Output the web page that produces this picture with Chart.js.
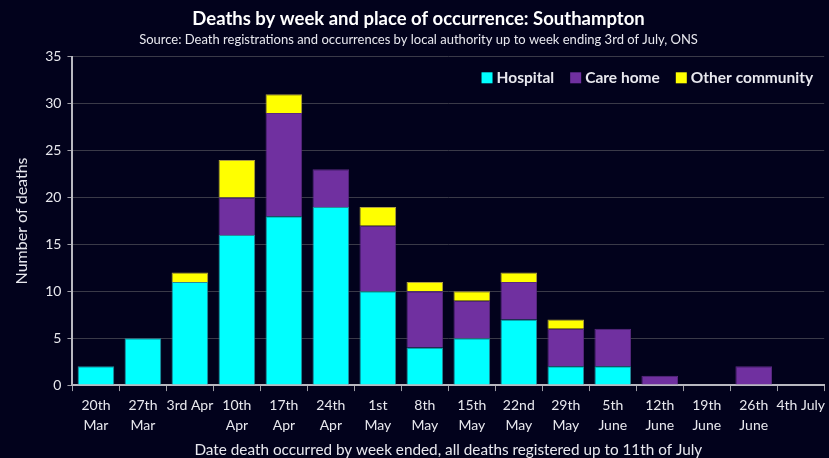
<!DOCTYPE html>
<html>
<head>
<meta charset="utf-8">
<script src="https://cdn.jsdelivr.net/npm/chart.js@4/dist/chart.umd.min.js"></script>
<style>
html,body{margin:0;padding:0;background:#02021c;}
#wrap{width:829px;height:458px;position:relative;}
</style>
</head>
<body>
<div id="wrap"><canvas id="c" width="829" height="458"></canvas></div>
<script>
const categories = [["20th","Mar"],["27th","Mar"],"3rd Apr",["10th","Apr"],["17th","Apr"],["24th","Apr"],["1st","May"],["8th","May"],["15th","May"],["22nd","May"],["29th","May"],["5th","June"],["12th","June"],["19th","June"],["26th","June"],"4th July"];
const hospital = [2,5,11,16,18,19,10,4,5,7,2,2,0,0,0,0];
const careHome = [0,0,0,4,11,4,7,6,4,4,4,4,1,0,2,0];
const otherCommunity = [0,0,1,4,2,0,2,1,1,1,1,0,0,0,0,0];

const FONT = "Lato, 'Open Sans', sans-serif";
const TXT = '#e8e8ee';

const insideLegend = {
  id:'insideLegend',
  afterDraw(chart){
    const ctx = chart.ctx;
    const area = chart.chartArea;
    ctx.save();
    ctx.font = 'bold 15.5px ' + FONT;
    ctx.textBaseline = 'middle';
    const items = chart.data.datasets.map(d => ({label:d.label, color:d.backgroundColor}));
    const box = 11, gap = 4, spacing = 16;
    let total = 0;
    items.forEach((it,i) => { total += box + gap + ctx.measureText(it.label).width + (i < items.length-1 ? spacing : 0); });
    let x = area.right - 11 - total;
    const y = area.top + 21;
    items.forEach(it => {
      ctx.fillStyle = it.color;
      ctx.fillRect(x, y - box/2, box, box);
      x += box + gap;
      ctx.fillStyle = TXT;
      ctx.fillText(it.label, x, y);
      x += ctx.measureText(it.label).width + spacing;
    });
    ctx.restore();
  }
};

new Chart(document.getElementById('c'), {
  type: 'bar',
  data: {
    labels: categories,
    datasets: [
      {label:'Hospital', data:hospital, backgroundColor:'#00ffff', borderColor:'#2a8a9a', borderWidth:1},
      {label:'Care home', data:careHome, backgroundColor:'#7030a0', borderColor:'#5a2a80', borderWidth:1},
      {label:'Other community', data:otherCommunity, backgroundColor:'#ffff00', borderColor:'#b0a040', borderWidth:1}
    ]
  },
  plugins:[insideLegend],
  options: {
    responsive:false,
    animation:false,
    layout:{padding:{left:8,right:0,top:0,bottom:0}},
    datasets:{bar:{barPercentage:0.78,categoryPercentage:1}},
    plugins:{
      title:{display:true,text:'Deaths by week and place of occurrence: Southampton',color:'#ffffff',font:{family:FONT,size:18.5,weight:'bold'},padding:{top:8,bottom:2}},
      subtitle:{display:true,text:'Source: Death registrations and occurrences by local authority up to week ending 3rd of July, ONS',color:TXT,font:{family:FONT,size:13},padding:{bottom:9}},
      legend:{display:false},
      tooltip:{enabled:false}
    },
    scales:{
      x:{stacked:true,
        grid:{display:true,drawOnChartArea:false,drawTicks:true,tickLength:6,color:'#a0a0a8',offset:true},
        border:{color:'#b8b8c0',width:2},
        ticks:{color:TXT,font:{family:FONT,size:14,lineHeight:1.45},maxRotation:0,autoSkip:false,padding:4},
        title:{display:true,text:'Date death occurred by week ended, all deaths registered up to 11th of July',color:TXT,font:{family:FONT,size:15.3,lineHeight:1.0},padding:{top:3,bottom:0}}
      },
      y:{stacked:true,min:0,max:35,
        ticks:{stepSize:5,color:TXT,font:{family:FONT,size:14},padding:6},
        grid:{color:'#3a3a48',tickLength:5,tickColor:'#a0a0a8'},
        border:{color:'#b8b8c0',width:2},
        title:{display:true,text:'Number of deaths',color:TXT,font:{family:FONT,size:16},padding:{bottom:8}}
      }
    }
  }
});
</script>
</body>
</html>
